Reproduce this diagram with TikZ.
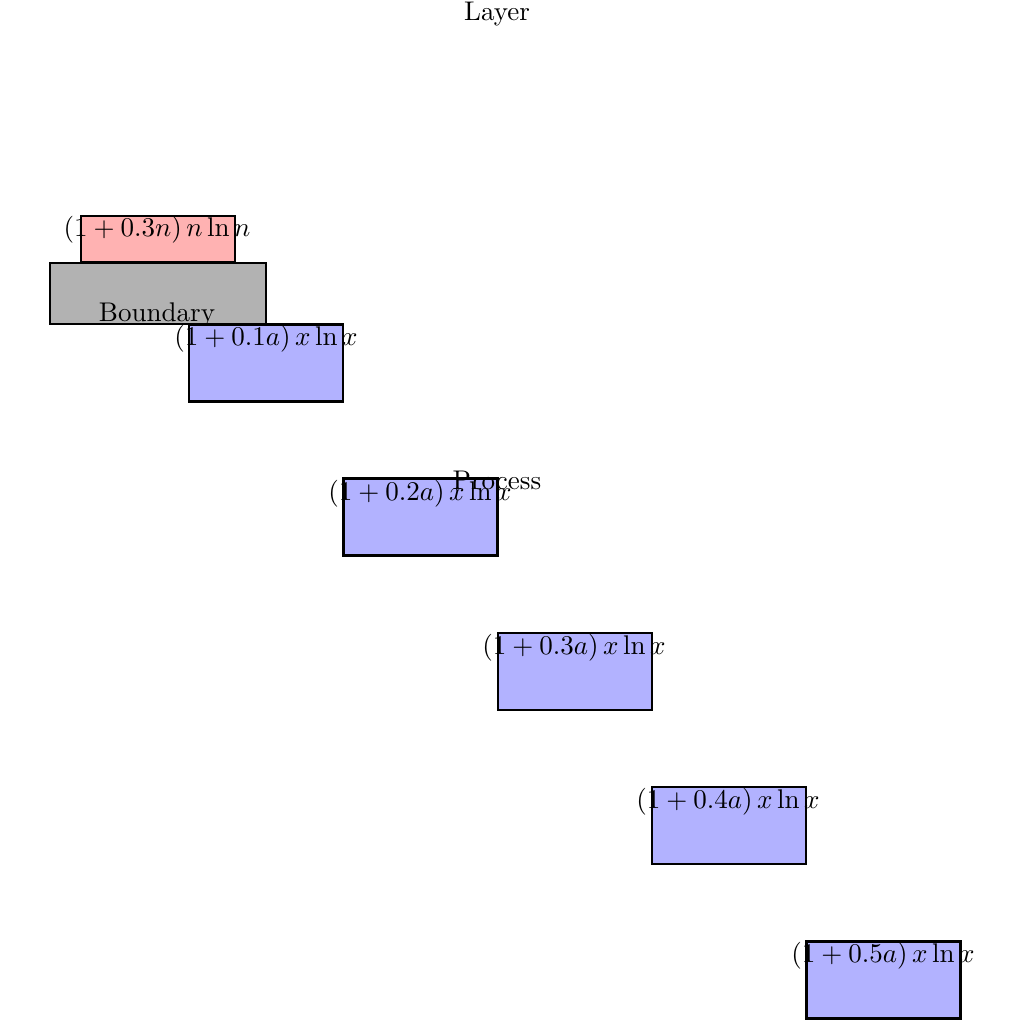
\documentclass[tikz,border=0pt]{standalone}
\begin{document}
\begin{tikzpicture}[x=0.37pt,y=-0.37pt,
  boxs/.style={draw=black,thick,minimum width=154*0.37pt,minimum height=77*0.37pt,inner sep=0pt,outer sep=0pt},
  bluebox/.style={boxs,fill=blue!30},
  lbl/.style={inner sep=0pt}]
\useasboundingbox (0,0) rectangle (1024,1024);
\node[lbl] (layer) at (497,14) {Layer};
\node[draw=black,thick,fill=red!30,minimum width=154*0.37pt,minimum height=46*0.37pt,inner sep=0pt] (red) at (158,239) {};
\node[draw=black,thick,fill=black!30,minimum width=216*0.37pt,minimum height=61*0.37pt,inner sep=0pt] (bnd) at (158,293.5) {};
\node[lbl] (redl) at (157,230) {$(1+0.3n)\,n\ln n$};
\node[lbl] (bndl) at (157,315) {Boundary};
\node[bluebox] (b1) at (266,363) {};
\node[bluebox] (b2) at (420.5,517) {};
\node[bluebox] (b3) at (575,671.5) {};
\node[bluebox] (b4) at (729,825.5) {};
\node[bluebox] (b5) at (883.5,980) {};
\node[lbl] (proc) at (497,480) {Process};
\node[lbl] (l1) at (266,339) {$(1+0.1a)\,x\ln x$};
\node[lbl] (l2) at (420,494) {$(1+0.2a)\,x\ln x$};
\node[lbl] (l3) at (574,648) {$(1+0.3a)\,x\ln x$};
\node[lbl] (l4) at (728,802) {$(1+0.4a)\,x\ln x$};
\node[lbl] (l5) at (883,956) {$(1+0.5a)\,x\ln x$};
\end{tikzpicture}
\end{document}
